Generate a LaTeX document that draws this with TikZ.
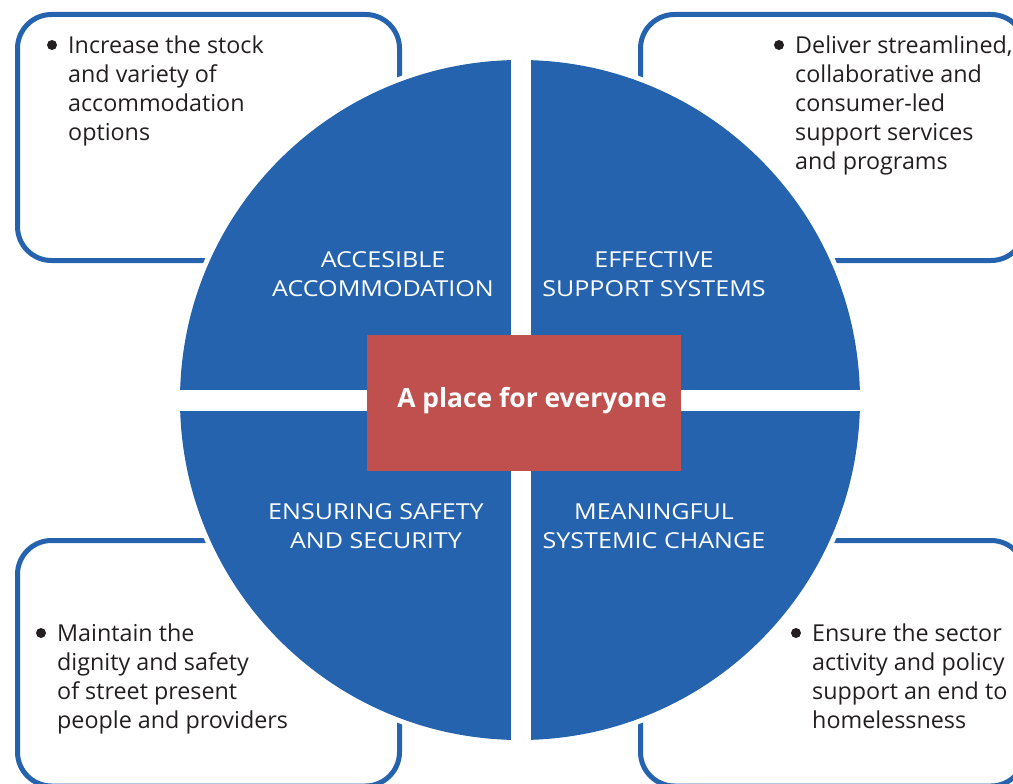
\documentclass[tikz,border=0pt]{standalone}
\usepackage{fontspec}
\setmainfont{Open Sans}
\newfontfamily\widecaps[FakeStretch=1.14]{Open Sans}
\usepackage{tikz}

\definecolor{wheelblue}{HTML}{2563AE}
\definecolor{corered}{HTML}{C0504D}
\definecolor{inkgrey}{HTML}{231F20}

\tikzset{
  goalbox/.style={draw=wheelblue, line width=5pt, rounded corners=34pt},
  quarter/.style={text=white, align=center, anchor=base, inner sep=0pt,
    font=\widecaps\fontsize{22}{29}\selectfont},
  aim/.style={text=inkgrey, align=left, anchor=base west, inner sep=0pt,
    font=\fontsize{23.3}{29}\selectfont},
  bulletdot/.style={circle, fill=inkgrey, inner sep=0pt, minimum size=10pt},
  core/.style={fill=corered, inner sep=0pt, minimum width=314pt, minimum height=136pt},
  coretext/.style={text=white, anchor=base, inner sep=0pt,
    font=\fontsize{26.4}{29}\selectfont\bfseries},
}

\begin{document}
\begin{tikzpicture}[x=1pt, y=-1pt]
                \useasboundingbox (0,0) rectangle (1013,784);
                \clip (0,0) rectangle (1013,784);

                % outer boxes
                \draw[goalbox] (17.5,14.5) rectangle (399.5,260.5);
                \draw[goalbox] (640.5,14.5) rectangle (1025,260.5);
                \draw[goalbox] (17.5,540.5) rectangle (399.5,786);
                \draw[goalbox] (640.5,540.5) rectangle (1025,786);

                % wheel
                \fill[white] (520,400) circle[radius=345];
                \fill[wheelblue] (520,400) circle[radius=340];
                \fill[white] (510.5,40) rectangle (530.5,760);
                \fill[white] (160,390) rectangle (880,410.5);

                % base anchor sits on the last line
                \node[quarter] (Q1) at (383,296) {ACCESIBLE\\ACCOMMODATION};
                \node[quarter] (Q2) at (654,296) {EFFECTIVE\\SUPPORT SYSTEMS};
                \node[quarter] (Q3) at (376,548) {ENSURING SAFETY\\AND SECURITY};
                \node[quarter] (Q4) at (654,548) {MEANINGFUL\\SYSTEMIC CHANGE};

                \node[core] (C) at (524,403) {};
                \node[coretext] (C1) at (532,407) {A place for everyone};

                \node[bulletdot] (D1) at (52,45) {};
                \node[bulletdot] (D2) at (779,45) {};
                \node[bulletdot] (D3) at (41,633) {};
                \node[bulletdot] (D4) at (796,633) {};

                \node[aim] (T1) at (68,140) {Increase the stock\\and variety of\\accommodation\\options};
                \node[aim] (T2) at (795,169) {Deliver streamlined,\\collaborative and\\consumer-led\\support services\\and programs};
                \node[aim] (T3) at (57,728) {Maintain the\\dignity and safety\\of street present\\people and providers};
                \node[aim] (T4) at (812,728) {Ensure the sector\\activity and policy\\support an end to\\homelessness};
            \end{tikzpicture}
\end{document}
